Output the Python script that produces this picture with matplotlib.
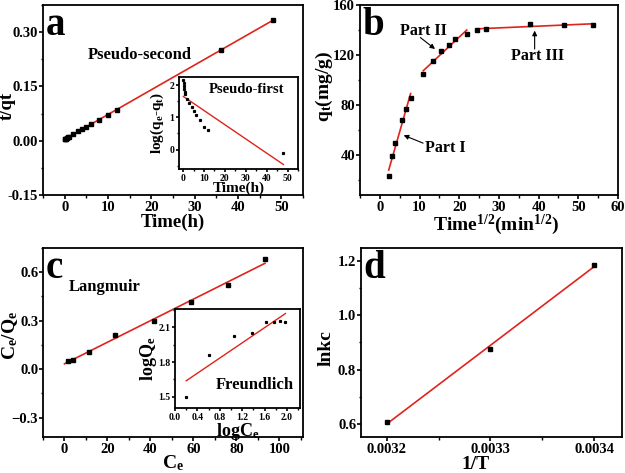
import numpy as np
import matplotlib
matplotlib.use("Agg")
import matplotlib.pyplot as plt
from matplotlib.ticker import MultipleLocator

plt.rcParams['font.family'] = ['Liberation Serif', 'DejaVu Serif']
plt.rcParams['font.weight'] = 'bold'
plt.rcParams['axes.labelweight'] = 'bold'
plt.rcParams['mathtext.fontset'] = 'custom'
plt.rcParams['mathtext.rm'] = 'Liberation Serif:bold'
plt.rcParams['mathtext.it'] = 'Liberation Serif:bold'
plt.rcParams['mathtext.bf'] = 'Liberation Serif:bold'
plt.rcParams['axes.linewidth'] = 1.3

RED = '#e0231c'

# (a) pseudo-second order
time_a = [0.083, 0.167, 0.25, 0.5, 0.75, 1, 2, 3, 4, 5, 6, 8, 10, 12, 36, 48]
tqt_a = [0.0036, 0.0043, 0.005, 0.0074, 0.0097, 0.0116, 0.019, 0.026, 0.0325,
         0.039, 0.045, 0.058, 0.071, 0.085, 0.25, 0.333]
# inset (a) pseudo-first order
time_ai = [0.083, 0.167, 0.25, 0.5, 0.75, 1, 2, 3, 4, 5, 6, 8, 10, 12, 48]
logq_ai = [2.15, 2.05, 1.97, 1.87, 1.79, 1.72, 1.57, 1.45, 1.33, 1.21, 1.08,
           0.93, 0.71, 0.61, -0.1]

# (b) intra-particle diffusion
sqrt_t = [2.24, 3.16, 3.87, 5.48, 6.71, 7.75, 10.95, 13.4, 15.5, 17.3, 19.0,
          21.9, 24.5, 26.8, 37.9, 46.5, 53.7]
qt_b = [23, 39, 50, 68, 77, 86, 105, 115, 123, 128, 133, 137, 140, 141, 145, 144, 144]
parts = [(0, 6), (6, 12), (12, 17)]

# (c) Langmuir / Freundlich
ce = [1.58, 4.0, 11.2, 23.4, 41.7, 58.9, 75.9, 93.3]
ce_qe = [0.05, 0.055, 0.108, 0.21, 0.295, 0.415, 0.52, 0.68]
logce = [0.2, 0.6, 1.05, 1.37, 1.62, 1.77, 1.88, 1.97]
logqe = [1.5, 1.86, 2.02, 2.05, 2.14, 2.14, 2.15, 2.14]

# (d) van't Hoff
inv_t = [0.0032, 0.0033, 0.0034]
lnkc = [0.605, 0.877, 1.187]

MS = 3.4
LABEL = 13


def fit_line(ax, x, y, lw=1.2):
    k, b = np.polyfit(x, y, 1)
    xx = np.array([min(x), max(x)])
    ax.plot(xx, k * xx + b, color=RED, lw=lw, zorder=2)


def style(ax, size=10.5):
    ax.tick_params(which='both', direction='out', top=False, right=False, labelsize=size)
    ax.tick_params(axis='x', pad=1.5)
    ax.tick_params(axis='y', pad=0.5)
    ax.tick_params(which='major', length=3, width=1.2)
    ax.tick_params(which='minor', length=1.8, width=1.0)
    for lab in ax.get_xticklabels() + ax.get_yticklabels():
        lab.set_fontweight('bold')


def arrow(ax, tail, head):
    ax.annotate('', xy=head, xytext=tail,
                arrowprops=dict(arrowstyle='-|>', color='k', lw=0.8,
                                mutation_scale=7, shrinkA=0, shrinkB=0))


def labels(ax, xl, yl, xpos, ypos, size=LABEL):
    ax.set_xlabel(xl, fontsize=size)
    ax.set_ylabel(yl, fontsize=size)
    ax.xaxis.set_label_coords(*xpos)
    ax.yaxis.set_label_coords(*ypos)


def inset_ticks(axi):
    style(axi, 7)
    axi.tick_params(which='major', length=2.5)
    axi.tick_params(which='minor', length=1.5)
    axi.tick_params(axis='x', pad=1)
    axi.tick_params(axis='y', pad=1)


fig = plt.figure(figsize=(6.25, 4.73), dpi=100)

# ---- a
ax = fig.add_axes([0.0688, 0.5877, 0.416, 0.4017])
ax.plot(time_a, tqt_a, 's', color='k', ms=MS, zorder=3)
fit_line(ax, time_a, tqt_a)
ax.set_xlim(-5, 55)
ax.set_ylim(-0.15, 0.375)
ax.xaxis.set_major_locator(MultipleLocator(10))
ax.xaxis.set_minor_locator(MultipleLocator(5))
ax.yaxis.set_major_locator(MultipleLocator(0.15))
ax.yaxis.set_minor_locator(MultipleLocator(0.075))
ax.yaxis.set_major_formatter(plt.FormatStrFormatter('%.2f'))
labels(ax, 'Time(h)', 't/qt', (0.5, -0.1), (-0.103, 0.47), size=13.5)
ax.text(0.01, 0.99, 'a', transform=ax.transAxes, fontsize=28, fontweight='bold', va='top')
ax.text(5.3, 0.236, 'Pseudo-second', fontsize=12, fontweight='bold', va='center')
style(ax)

axi = fig.add_axes([0.2864, 0.6427, 0.1904, 0.1945])
axi.plot(time_ai, logq_ai, 's', color='k', ms=1.3, zorder=3)
fit_line(axi, time_ai, logq_ai, lw=1.0)
axi.set_xlim(-2, 55)
axi.set_ylim(-0.6, 2.25)
axi.xaxis.set_major_locator(MultipleLocator(10))
axi.xaxis.set_minor_locator(MultipleLocator(5))
axi.yaxis.set_major_locator(MultipleLocator(1))
axi.yaxis.set_minor_locator(MultipleLocator(0.5))
labels(axi, 'Time(h)', 'log(q$_e$-q$_t$)', (0.5, -0.14), (-0.11, 0.5), size=11)
axi.text(0.25, 0.86, 'Pseudo-first', transform=axi.transAxes, fontsize=10.5,
         fontweight='bold', va='center')
inset_ticks(axi)

# ---- b
ax = fig.add_axes([0.576, 0.5877, 0.4128, 0.4017])
ax.plot(sqrt_t, qt_b, 's', color='k', ms=MS, zorder=3)
for i0, i1 in parts:
    fit_line(ax, sqrt_t[i0:i1], qt_b[i0:i1])
ax.set_xlim(-5, 60)
ax.set_ylim(8, 160)
ax.xaxis.set_major_locator(MultipleLocator(10))
ax.xaxis.set_minor_locator(MultipleLocator(5))
ax.yaxis.set_major_locator(MultipleLocator(40))
ax.yaxis.set_minor_locator(MultipleLocator(20))
labels(ax, 'Time$^{1/2}$(min$^{1/2}$)', 'q$_t$(mg/g)', (0.527, -0.095), (-0.097, 0.57),
       size=14)
ax.text(0.01, 0.99, 'b', transform=ax.transAxes, fontsize=28, fontweight='bold', va='top')
ax.text(11.4, 46, 'Part I', fontsize=11.5, fontweight='bold', va='center')
arrow(ax, (10.9, 49.5), (6.0, 55.8))
ax.text(5.2, 139, 'Part II', fontsize=11.5, fontweight='bold', va='center')
arrow(ax, (10.2, 134), (13.9, 124.8))
ax.text(33.1, 119, 'Part III', fontsize=11.5, fontweight='bold', va='center')
arrow(ax, (39, 124.8), (39, 139.5))
style(ax)

# ---- c
ax = fig.add_axes([0.0688, 0.0761, 0.416, 0.3996])
ax.plot(ce, ce_qe, 's', color='k', ms=MS, zorder=3)
k, b = np.polyfit(ce, ce_qe, 1)
xx = np.array([0, max(ce)])
ax.plot(xx, k * xx + b, color=RED, lw=1.2, zorder=2)
ax.set_xlim(-10, 111)
ax.set_ylim(-0.42, 0.75)
ax.xaxis.set_major_locator(MultipleLocator(20))
ax.xaxis.set_minor_locator(MultipleLocator(10))
ax.yaxis.set_major_locator(MultipleLocator(0.3))
ax.yaxis.set_minor_locator(MultipleLocator(0.15))
labels(ax, 'C$_e$', 'C$_e$/Q$_e$', (0.5, -0.085), (-0.09, 0.54), size=14)
ax.text(0.01, 0.99, 'c', transform=ax.transAxes, fontsize=28, fontweight='bold', va='top')
ax.text(2, 0.507, 'Langmuir', fontsize=12, fontweight='bold', va='center')
style(ax)

axi = fig.add_axes([0.28, 0.1374, 0.2, 0.2093])
axi.plot(logce, logqe, 's', color='k', ms=1.3, zorder=3)
fit_line(axi, logce, logqe, lw=1.0)
axi.set_xlim(0, 2.23)
axi.set_ylim(1.405, 2.255)
axi.xaxis.set_major_locator(MultipleLocator(0.4))
axi.xaxis.set_minor_locator(MultipleLocator(0.2))
axi.yaxis.set_major_locator(MultipleLocator(0.3))
axi.yaxis.set_minor_locator(MultipleLocator(0.15))
axi.xaxis.set_major_formatter(plt.FormatStrFormatter('%.1f'))
labels(axi, 'logC$_e$', 'logQ$_e$', (0.5, -0.135), (-0.125, 0.5), size=13)
axi.text(0.95, 0.23, 'Freundlich', transform=axi.transAxes, fontsize=12,
         fontweight='bold', va='center', ha='right')
inset_ticks(axi)

# ---- d
ax = fig.add_axes([0.5776, 0.0761, 0.4176, 0.3996])
ax.plot(inv_t, lnkc, 's', color='k', ms=MS, zorder=3)
fit_line(ax, inv_t, lnkc)
ax.set_xlim(0.003175, 0.003427)
ax.set_ylim(0.55, 1.25)
ax.set_xticks([0.0032, 0.0033, 0.0034])
ax.xaxis.set_major_formatter(plt.FormatStrFormatter('%.4f'))
ax.xaxis.set_minor_locator(MultipleLocator(0.00005))
ax.yaxis.set_major_locator(MultipleLocator(0.2))
ax.yaxis.set_minor_locator(MultipleLocator(0.1))
labels(ax, '1/T', 'lnkc', (0.44, -0.1), (-0.1, 0.47), size=14)
ax.text(0.01, 0.99, 'd', transform=ax.transAxes, fontsize=28, fontweight='bold', va='top')
style(ax)

fig.savefig('out.png', dpi=100)
